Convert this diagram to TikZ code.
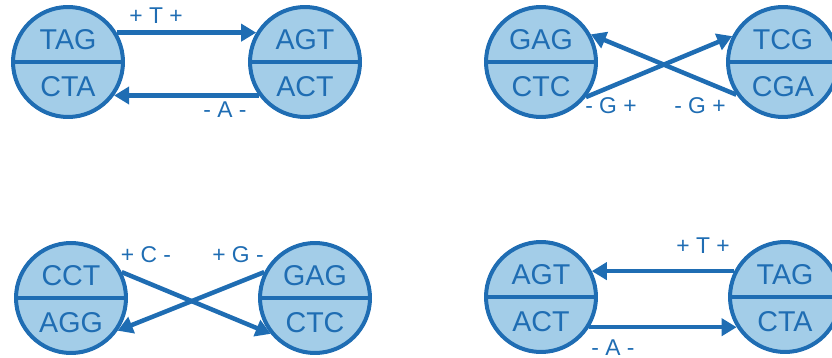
\documentclass[tikz,border=0pt]{standalone}
\usepackage{fontspec}
\setmainfont{Liberation Sans}
\usetikzlibrary{arrows.meta}

\definecolor{dnablue}{HTML}{1F6DB3}
\definecolor{dnafill}{HTML}{A3CDE8}

\tikzset{
    pair/.style={circle, draw=dnablue, fill=dnafill, line width=0.08cm, minimum size=2.2cm, inner sep=0pt},
    seq/.style={text=dnablue, font=\fontsize{16.3}{16}\selectfont},
    change/.style={text=dnablue, inner sep=1pt, font=\fontsize{13}{13}\selectfont},
    link/.style={draw=dnablue, line width=0.09cm, -{Triangle[length=0.3cm,width=0.34cm]}},
}

\begin{document}
\begin{tikzpicture}[x=0.02cm, y=-0.02cm]

    \useasboundingbox (0,0) rectangle (832,358);

    %base pairs
    \foreach \n/\x/\y/\t/\b in {a/68/62/TAG/CTA, b/305/62/AGT/ACT,
                                c/541/62/GAG/CTC, d/783/62/TCG/CGA,
                                e/71/298/CCT/AGG, f/315/298/GAG/CTC,
                                g/541/297/AGT/ACT, h/785/297/TAG/CTA} {
        \node[pair] (\n) at (\x,\y) {};
        \draw[dnablue, line width=0.08cm] (\n.west) -- (\n.east);
        \node[seq] (\n-t) at ([yshift=0.45cm]\n.center) {\t};
        \node[seq] (\n-b) at ([yshift=-0.5cm]\n.center) {\b};
    }

    %top left
    \draw[link] (a.31) -- (b.149);
    \draw[link] (b.216) -- (a.-36);
    \node[change] (a-plus) at (156,16) {+~T~+};
    \node[change] (b-minus) at (225,110) {-~A~-};

    %top right
    \draw[link] (d.215) -- (c.29);
    \draw[link] (c.-38) -- (d.153);
    \node[change] (c-g) at (611,106) {-~G~+};
    \node[change] (d-g) at (700,106) {-~G~+};

    %bottom left
    \draw[link] (e.27) -- (f.219);
    \draw[link] (f.153) -- (e.-35);
    \node[change] (e-c) at (146,255) {+~C~-};
    \node[change] (f-g) at (238,255) {+~G~-};

    %bottom right
    \draw[link] (h.153) -- (g.27);
    \draw[link] (g.-32) -- (h.212);
    \node[change] (h-plus) at (703,246) {+~T~+};
    \node[change] (g-minus) at (613,348) {-~A~-};

\end{tikzpicture}
\end{document}
